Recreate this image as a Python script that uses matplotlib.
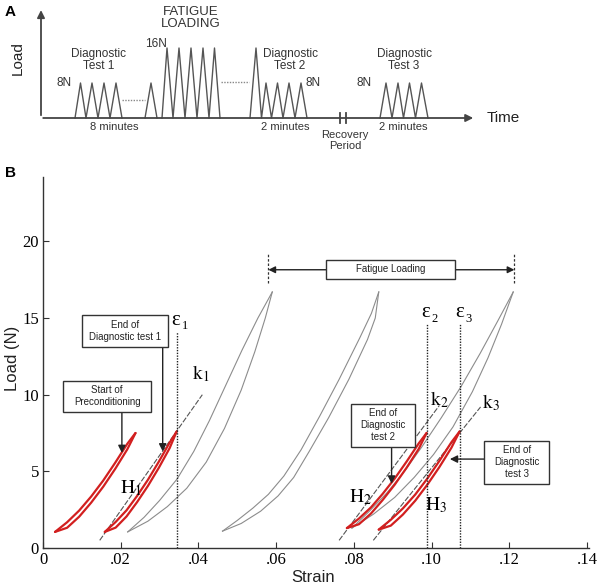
import matplotlib
matplotlib.use("Agg")
import matplotlib.pyplot as plt
from matplotlib.patches import Rectangle

plt.rcParams['font.family'] = ['Liberation Sans', 'DejaVu Sans']
plt.rcParams['mathtext.fontset'] = 'stix'

# ---- Panel A: loading protocol (time in arbitrary units, load in N) ----
test1_time = [75, 80.5, 86, 92, 98, 104, 110, 116, 122]
test1_load = [0, 8, 0, 8, 0, 8, 0, 8, 0]
single_time = [145, 151, 157]
single_load = [0, 8, 0]
fatigue_time = [162, 167, 173, 179, 185, 191, 197, 203, 209, 214.5, 220]
fatigue_load = [0, 16, 0, 16, 0, 16, 0, 16, 0, 16, 0]
test2_time = [250, 256, 261.5, 266, 271.5, 277.5, 283, 289, 295, 301, 307]
test2_load = [0, 16, 0, 8, 0, 8, 0, 8, 0, 8, 0]
test3_time = [380, 386, 392, 398, 403.5, 409.5, 415.5, 421.5, 428]
test3_load = [0, 8, 0, 8, 0, 8, 0, 8, 0]

# ---- Panel B: load-strain curves ----
# red diagnostic loops (loading / unloading branch)
pre_x = [0.0031, 0.0062, 0.0093, 0.0124, 0.0155, 0.0186, 0.0217, 0.0238]
pre_up = [1.05, 1.68, 2.44, 3.36, 4.40, 5.57, 6.80, 7.5]
pre_lo = [1.05, 1.32, 2.04, 2.96, 4.00, 5.17, 6.44, 7.5]

d1_x = [0.0159, 0.0187, 0.0215, 0.0242, 0.0270, 0.0298, 0.0326, 0.0344]
d1_up = [1.05, 1.70, 2.46, 3.39, 4.45, 5.63, 6.88, 7.6]
d1_lo = [1.05, 1.33, 2.06, 2.99, 4.05, 5.23, 6.52, 7.6]

d2_x = [0.0782, 0.0813, 0.0844, 0.0874, 0.0905, 0.0936, 0.0967, 0.0987]
d2_up = [1.3, 1.92, 2.65, 3.53, 4.53, 5.65, 6.83, 7.5]
d2_lo = [1.3, 1.55, 2.25, 3.13, 4.13, 5.25, 6.47, 7.5]

d3_x = [0.0864, 0.0895, 0.0926, 0.0958, 0.0989, 0.1020, 0.1051, 0.1072]
d3_up = [1.2, 1.84, 2.58, 3.49, 4.53, 5.68, 6.90, 7.6]
d3_lo = [1.2, 1.46, 2.18, 3.09, 4.13, 5.28, 6.54, 7.6]

# grey fatigue loops
f1_a_x = [0.0218, 0.0260, 0.0300, 0.0345, 0.0388, 0.0428, 0.0470, 0.0512, 0.0553, 0.0590]
f1_a_y = [1.05, 2.0, 3.1, 4.5, 6.3, 8.3, 10.6, 12.9, 15.0, 16.7]
f1_b_x = [0.0218, 0.0270, 0.0320, 0.0370, 0.0420, 0.0467, 0.0510, 0.0545, 0.0572, 0.0590]
f1_b_y = [1.05, 1.75, 2.7, 3.9, 5.6, 7.8, 10.3, 12.8, 15.0, 16.7]

f2_a_x = [0.0462, 0.0500, 0.0540, 0.0580, 0.0620, 0.0664, 0.0712, 0.0762, 0.0815, 0.0845, 0.0864]
f2_a_y = [1.1, 1.8, 2.6, 3.5, 4.7, 6.4, 8.6, 11.0, 13.7, 15.3, 16.7]
f2_b_x = [0.0462, 0.0510, 0.0560, 0.0605, 0.0645, 0.0685, 0.0735, 0.0787, 0.0835, 0.0855, 0.0864]
f2_b_y = [1.1, 1.6, 2.4, 3.4, 4.6, 6.3, 8.5, 11.0, 13.6, 15.0, 16.7]

f3_a_x = [0.0795, 0.0840, 0.0885, 0.0930, 0.0975, 0.1025, 0.1075, 0.1125, 0.1170, 0.1210]
f3_a_y = [1.3, 2.4, 3.6, 5.0, 6.6, 8.5, 10.5, 12.7, 14.8, 16.7]
f3_b_x = [0.0795, 0.0850, 0.0905, 0.0955, 0.1005, 0.1055, 0.1105, 0.1145, 0.1180, 0.1210]
f3_b_y = [1.3, 2.2, 3.3, 4.6, 6.1, 7.9, 10.2, 12.4, 14.6, 16.7]

# stiffness tangent lines
k1_x, k1_y = [0.0146, 0.0410], [0.5, 10.0]
k2_x, k2_y = [0.0762, 0.1020], [0.5, 9.3]
k3_x, k3_y = [0.0850, 0.1126], [0.5, 9.2]

# strain markers
eps_x = [0.0344, 0.0987, 0.1074]
eps_top = [14.1, 14.6, 14.6]
eps_names = ['1', '2', '3']
fatigue_span = [0.0580, 0.1213]

x_ticks = [0, 0.02, 0.04, 0.06, 0.08, 0.10, 0.12, 0.14]
x_ticklabels = ['0', '.02', '.04', '.06', '.08', '.10', '.12', '.14']
y_ticks = [0, 5, 10, 15, 20]

RED = '#d21f1f'
GREY = '#8c8c8c'
DARK = '#333333'
SERIF = ['Liberation Serif', 'DejaVu Serif']

fig = plt.figure(figsize=(6.01, 5.88), dpi=100)

# ================= Panel A =================
ax_a = fig.add_axes([0, 1 - 160 / 588, 1, 160 / 588])
ax_a.set_xlim(0, 601)
ax_a.set_ylim(-(160 - 118) / 4.375, 118 / 4.375)
ax_a.axis('off')

for t, l in [(test1_time, test1_load), (single_time, single_load),
             (fatigue_time, fatigue_load), (test2_time, test2_load),
             (test3_time, test3_load)]:
    ax_a.plot(t, l, color='#555555', lw=1.0)

ax_a.plot([122, 145], [4.1, 4.1], color='#888888', lw=1.0, ls=(0, (1, 1)))
ax_a.plot([221, 249], [8.2, 8.2], color='#888888', lw=1.0, ls=(0, (1, 1)))

ax_a.annotate('', xy=(41, 25.3), xytext=(41, 0),
              arrowprops=dict(arrowstyle='-|>', color='#444444', lw=1.3, mutation_scale=11))
ax_a.annotate('', xy=(476, 0), xytext=(40.4, 0),
              arrowprops=dict(arrowstyle='-|>', color='#444444', lw=1.3, mutation_scale=11))
for bx in [339.5, 345.5]:
    ax_a.plot([bx, bx], [-1.1, 1.1], color='#444444', lw=1.3)

ax_a.text(10, 24.2, 'A', fontsize=11, fontweight='bold', ha='center', va='center')
ax_a.text(18, 13.6, 'Load', rotation=90, fontsize=11, ha='center', va='center', color='#222222')
ax_a.text(487, 0, 'Time', fontsize=11, ha='left', va='center', color='#222222')
fs = 8.5
ax_a.text(99, 13.3, 'Diagnostic\nTest 1', fontsize=fs, ha='center', va='center',
          linespacing=1.0, color='#333333')
ax_a.text(290, 13.3, 'Diagnostic\nTest 2', fontsize=fs, ha='center', va='center',
          linespacing=1.0, color='#333333')
ax_a.text(404, 13.3, 'Diagnostic\nTest 3', fontsize=fs, ha='center', va='center',
          linespacing=1.0, color='#333333')
ax_a.text(191, 22.8, 'FATIGUE\nLOADING', fontsize=9.5, ha='center', va='center',
          linespacing=1.0, color='#333333')
ax_a.text(72, 8.0, '8N', fontsize=fs, ha='right', va='center', color='#333333')
ax_a.text(167, 16.9, '16N', fontsize=fs, ha='right', va='center', color='#333333')
ax_a.text(305, 8.0, '8N', fontsize=fs, ha='left', va='center', color='#333333')
ax_a.text(372, 8.0, '8N', fontsize=fs, ha='right', va='center', color='#333333')
ax_a.text(114, -2.1, '8 minutes', fontsize=8, ha='center', va='center', color='#333333')
ax_a.text(285, -2.1, '2 minutes', fontsize=8, ha='center', va='center', color='#333333')
ax_a.text(403, -2.1, '2 minutes', fontsize=8, ha='center', va='center', color='#333333')
ax_a.text(345, -5.1, 'Recovery\nPeriod', fontsize=8, ha='center', va='center',
          linespacing=1.1, color='#333333')

# ================= Panel B =================
ax = fig.add_axes([43 / 601, 40 / 588, 546 / 601, 371 / 588])
ax.set_xlim(0, 0.1405)
ax.set_ylim(0, 24.2)
for s in ['top', 'right']:
    ax.spines[s].set_visible(False)
for s in ['left', 'bottom']:
    ax.spines[s].set_color(DARK)
    ax.spines[s].set_linewidth(1.0)

ax.set_xticks(x_ticks)
ax.set_xticklabels(x_ticklabels)
ax.set_yticks(y_ticks)
ax.tick_params(direction='in', length=4, width=0.8, color=DARK, pad=3)
for lab in ax.get_xticklabels() + ax.get_yticklabels():
    lab.set_fontfamily('Liberation Serif')
    lab.set_fontsize(12)

# grey fatigue loops
for xa, ya, xb, yb in [(f1_a_x, f1_a_y, f1_b_x, f1_b_y),
                       (f2_a_x, f2_a_y, f2_b_x, f2_b_y),
                       (f3_a_x, f3_a_y, f3_b_x, f3_b_y)]:
    ax.plot(xa, ya, color=GREY, lw=0.8)
    ax.plot(xb, yb, color=GREY, lw=0.8)

# tangent lines
for kx, ky in [(k1_x, k1_y), (k2_x, k2_y), (k3_x, k3_y)]:
    ax.plot(kx, ky, color='#555555', lw=0.8, ls=(0, (5, 1.5)))

# red diagnostic loops
for lx, up, lo in [(pre_x, pre_up, pre_lo), (d1_x, d1_up, d1_lo),
                   (d2_x, d2_up, d2_lo), (d3_x, d3_up, d3_lo)]:
    ax.plot(lx, up, color=RED, lw=1.6, solid_capstyle='round', solid_joinstyle='round')
    ax.plot(lx, lo, color=RED, lw=1.6, solid_capstyle='round', solid_joinstyle='round')

# strain lines with upright epsilon labels
for ex, et, nm in zip(eps_x, eps_top, eps_names):
    ax.plot([ex, ex], [0, et], color='#222222', lw=1.0, ls=(0, (1, 1)))
    ax.text(ex - 0.0003, et + 0.75, 'ε', fontsize=15, family=SERIF, ha='center', va='center')
    ax.text(ex + 0.0013, et + 0.35, nm, fontsize=9, family=SERIF, ha='left', va='center')

ax.text(0.0405, 11.4, r'$\mathrm{k}_1$', fontsize=14, ha='center', va='center')
ax.text(0.1020, 9.7, r'$\mathrm{k}_2$', fontsize=14, ha='center', va='center')
ax.text(0.1153, 9.5, r'$\mathrm{k}_3$', fontsize=14, ha='center', va='center')
ax.text(0.0225, 3.9, r'$\mathrm{H}_1$', fontsize=14, ha='center', va='center')
ax.text(0.0818, 3.3, r'$\mathrm{H}_2$', fontsize=14, ha='center', va='center')
ax.text(0.1012, 2.8, r'$\mathrm{H}_3$', fontsize=14, ha='center', va='center')

# fatigue loading span
for fx in fatigue_span:
    ax.plot([fx, fx], [17.3, 19.15], color='#333333', lw=0.9, ls=(0, (2, 1.5)))
ax.annotate('', xy=(fatigue_span[0], 18.15), xytext=(fatigue_span[1], 18.15),
            arrowprops=dict(arrowstyle='<|-|>', color='#222222', lw=1.0, mutation_scale=10,
                            shrinkA=0, shrinkB=0))


def label_box(x0, x1, y0, y1, text, arrow_from, arrow_to):
    ax.annotate('', xy=arrow_to, xytext=arrow_from,
                arrowprops=dict(arrowstyle='-|>', color='#222222', lw=1.0,
                                mutation_scale=11, shrinkA=0, shrinkB=0))
    ax.add_patch(Rectangle((x0, y0), x1 - x0, y1 - y0, facecolor='white',
                           edgecolor='#333333', lw=1.0, zorder=4))
    ax.text((x0 + x1) / 2, (y0 + y1) / 2, text, fontsize=7, ha='center', va='center',
            linespacing=1.25, zorder=5, color='#222222')


ax.add_patch(Rectangle((0.0728, 17.55), 0.1060 - 0.0728, 1.25, facecolor='white',
                       edgecolor='#333333', lw=1.0, zorder=4))
ax.text((0.0728 + 0.1060) / 2, 18.17, 'Fatigue Loading', fontsize=7, ha='center',
        va='center', zorder=5, color='#222222')

label_box(0.0100, 0.0321, 13.1, 15.2, 'End of\nDiagnostic test 1', (0.0308, 13.1), (0.0308, 6.3))
label_box(0.0051, 0.0279, 8.9, 10.9, 'Start of\nPreconditioning', (0.0203, 8.9), (0.0203, 6.2))
label_box(0.0792, 0.0956, 6.6, 9.4, 'End of\nDiagnostic\ntest 2', (0.0897, 6.6), (0.0897, 4.2))
label_box(0.1136, 0.1303, 4.2, 7.0, 'End of\nDiagnostic\ntest 3', (0.1136, 5.8), (0.1047, 5.8))

fig.text(10 / 601, 1 - 173 / 588, 'B', fontsize=11, fontweight='bold', ha='center', va='center')
fig.text(313 / 601, 1 - 577 / 588, 'Strain', fontsize=12, ha='center', va='center', color='#222222')
fig.text(13 / 601, 1 - 358 / 588, 'Load (N)', fontsize=12, rotation=90, ha='center',
         va='center', color='#222222')

fig.savefig('out.png', dpi=100)
